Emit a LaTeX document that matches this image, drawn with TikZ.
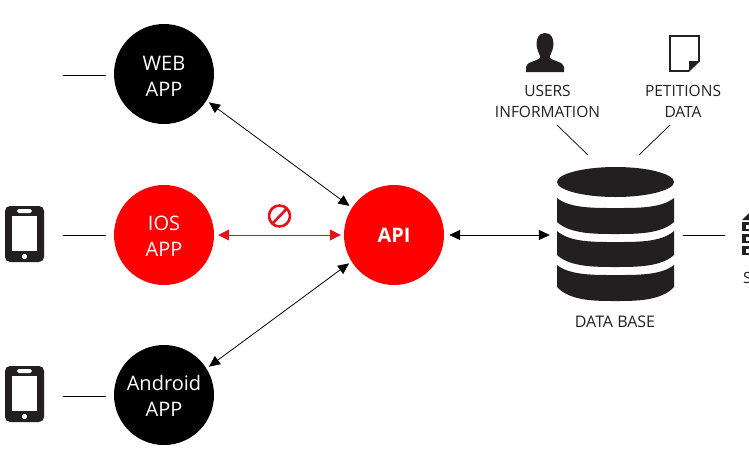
\documentclass[tikz,border=0pt]{standalone}
\usepackage{fontspec}
\setmainfont{Open Sans}
\usetikzlibrary{arrows.meta}
\definecolor{ink}{HTML}{231F20}
\definecolor{apired}{HTML}{FF0000}
\definecolor{linkred}{HTML}{E5101A}
\tikzset{
  x=1pt,y=-1pt,
  appcircle/.style={circle,minimum size=100pt,inner sep=0pt},
  applabel/.style={text=white,align=center,inner sep=0pt,font=\fontsize{20}{26}\selectfont},
  stub/.style={draw=black,line width=0.7pt},
  link/.style={line width=0.8pt,{Triangle[length=11pt,width=10pt]}-{Triangle[length=11pt,width=10pt]}},
  caption/.style={align=center,text=ink,inner sep=0pt,font=\fontsize{15.5}{21}\selectfont},
}
\newcommand{\phonedraw}[1]{%
  \begin{scope}[yshift=#1]
    \fill[ink,rounded corners=5pt] (5,206) rectangle (44,262);
    \fill[white] (12,216) rectangle (37,251);
    \fill[white,rounded corners=1.8pt] (17,209) rectangle (32,213);
    \fill[white] (24.5,256.5) circle[radius=2.6];
  \end{scope}}
\begin{document}
\begin{tikzpicture}
\useasboundingbox (0,0) rectangle (749,453);
\clip (0,0) rectangle (749,453);
% phones
\phonedraw{0pt}
\phonedraw{-160pt}
% circles
\node[appcircle,fill=black] (web) at (164,74) {};
\node[appcircle,fill=apired] (ios) at (164,235) {};
\node[appcircle,fill=black] (android) at (164,395) {};
\node[appcircle,fill=apired] (api) at (394,235) {};
\node[applabel] (webtxt) at (164,76) {WEB\\APP};
\node[applabel] (iostxt) at (164,236) {IOS\\APP};
\node[applabel] (androidtxt) at (164,396) {Android\\APP};
\node[applabel,font=\fontsize{20}{22}\selectfont\bfseries] (apitxt) at (394,235) {API};
% database
\node[minimum width=117pt,minimum height=134pt,inner sep=0pt] (db) at (615.5,235) {};
\fill[ink] (557,182) .. controls (557,174) and (583,167) .. (615.5,167)
  .. controls (648,167) and (674,174) .. (674,182)
  .. controls (674,190) and (648,197) .. (615.5,197)
  .. controls (583,197) and (557,190) .. (557,182) -- cycle;
\foreach \ta/\tb/\ba/\bb in {198/208/222/234, 231/242/255/267, 265/275/287/301}{
  \fill[ink] (557,\ta) .. controls (570,{\tb+0.5}) and (595,\tb) .. (615.5,\tb)
    .. controls (636,\tb) and (661,{\tb+0.5}) .. (674,\ta)
    -- (674,\ba) .. controls (661,\bb) and (636,\bb) .. (615.5,\bb)
    .. controls (595,\bb) and (570,\bb) .. (557,\ba) -- cycle;
}
\node[caption,font=\fontsize{16}{21}\selectfont] (dbcap) at (615,322) {DATA BASE};
% captions and icons
\node[caption] (users) at (547.5,101.5) {USERS\\INFORMATION};
\node[caption] (pet) at (683,101.5) {PETITIONS\\DATA};
\fill[ink] (545,33) .. controls (551,33) and (553.5,38) .. (553.5,44)
  .. controls (553.5,49) and (551,53) .. (550,56) -- (550,58)
  .. controls (553,61) and (564,62) .. (564,67) -- (564,72) -- (526,72) -- (526,67)
  .. controls (526,62) and (537,61) .. (540,58) -- (540,56)
  .. controls (539,53) and (536.5,49) .. (536.5,44)
  .. controls (536.5,38) and (539,33) .. (545,33) -- cycle;
\draw[ink,line width=1.8pt,line join=miter] (670,36) -- (699,36) -- (699,61) -- (688.5,71) -- (670,71) -- cycle;
\fill[ink] (699,61) -- (689,61) -- (689,71) -- cycle;
% database feeds
\coordinate (usersend) at (588,155);
\coordinate (petend) at (639,155);
\coordinate (usersstart) at (557,125);
\coordinate (petstart) at (670,125);
\draw[stub] (usersstart) -- (usersend);
\draw[stub] (petstart) -- (petend);
% stubs
\coordinate (s1a) at (63,75); \coordinate (s1b) at (106,75);
\coordinate (s2a) at (63,235); \coordinate (s2b) at (106,235);
\coordinate (s3a) at (63,396); \coordinate (s3b) at (106,396);
\coordinate (s4a) at (683,235); \coordinate (s4b) at (725,235);
\draw[stub] (s1a) -- (s1b);
\draw[stub] (s2a) -- (s2b);
\draw[stub] (s3a) -- (s3b);
\draw[stub] (s4a) -- (s4b);
% connectors
\draw[link,shorten <=3pt,shorten >=3pt] (web.-32) -- (api.147);
\draw[link,shorten <=3pt,shorten >=3pt] (android.32) -- (api.212);
\draw[link,shorten <=5pt,shorten >=7pt] (api.east) -- (db.west);
\draw[draw=linkred,line width=0.8pt,shorten <=4pt,shorten >=3pt,
  {Triangle[length=11pt,width=11pt,fill=linkred]}-{Triangle[length=11pt,width=11pt,fill=linkred]}] (ios.east) -- (api.west);
% prohibited
\draw[linkred,line width=2.6pt] (279.5,216) circle[radius=10.5];
\draw[linkred,line width=2.6pt] (273,223) -- (286.5,209);
% cut-off server icon
\fill[ink] (742,220) -- (749,213) -- (749,220) -- cycle;
\fill[ink] (742,222) rectangle (749,231);
\fill[ink] (742,234) rectangle (749,243);
\fill[ink] (742,246) rectangle (749,255);
\fill[white] (746,225) rectangle (749,229);
\fill[white] (746,237) rectangle (749,241);
\fill[white] (746,249) rectangle (749,253);
\node[caption,anchor=west] (srv) at (743,278) {S};
\end{tikzpicture}
\end{document}
